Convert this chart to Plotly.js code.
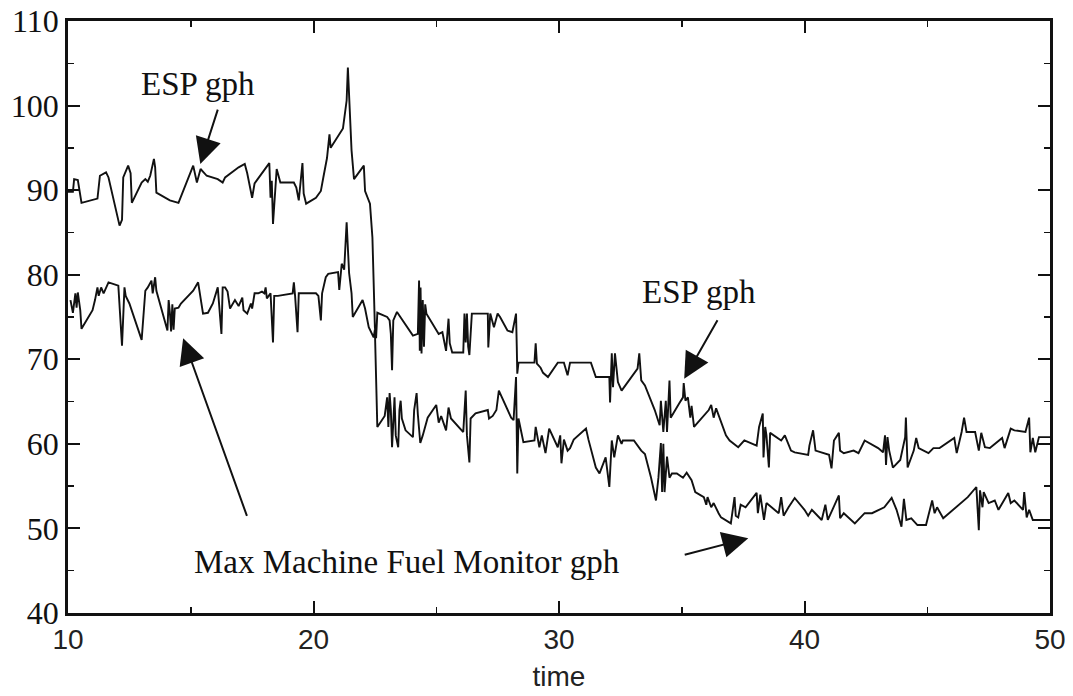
<!DOCTYPE html>
<html>
<head>
<meta charset="utf-8">
<script src="https://cdn.plot.ly/plotly-3.0.1.min.js"></script>
<style>html,body{margin:0;padding:0;background:#fff;}#chart{width:1073px;height:696px;}</style>
</head>
<body>
<div id="chart"></div>
<script>
// ESP gph (upper trace)
var espTime = [10.0,10.2,10.25,10.4,10.55,11.2,11.3,11.55,11.65,12.1,12.2,12.25,12.45,12.55,12.6,13.0,13.15,13.25,13.35,13.5,13.55,13.6,14.15,14.5,15.1,15.2,15.25,15.4,15.65,16.1,16.3,16.4,16.95,17.2,17.3,17.5,17.6,18.2,18.25,18.3,18.35,18.5,18.65,19.2,19.3,19.4,19.55,19.6,19.7,20.1,20.3,20.4,20.55,20.65,20.7,21.2,21.35,21.4,21.45,21.55,21.65,22.05,22.1,22.2,22.3,22.4,22.5,22.55,22.6,23.0,23.1,23.15,23.2,23.25,23.4,24.05,24.25,24.3,24.33,24.36,24.4,24.45,24.5,24.55,24.6,25.1,25.25,25.4,25.5,25.55,25.65,26.1,26.15,26.2,26.25,26.3,26.35,26.45,27.1,27.12,27.2,27.35,27.5,27.6,27.9,28.1,28.25,28.28,28.3,28.35,29.0,29.05,29.1,29.25,29.35,29.55,29.95,30.2,30.35,30.45,31.3,31.5,32.05,32.08,32.15,32.2,32.28,32.4,32.55,33.2,33.27,33.35,33.5,33.9,34.1,34.15,34.25,34.35,34.4,34.5,34.55,34.9,35.05,35.08,35.15,35.25,35.35,35.4,35.5,35.65,36.1,36.2,36.3,36.4,36.7,36.8,36.95,37.3,37.55,38.05,38.15,38.3,38.33,38.4,38.45,38.55,38.6,39.05,39.2,39.45,39.6,40.15,40.2,40.35,40.45,41.0,41.1,41.2,41.4,41.45,41.6,42.0,42.2,42.45,43.0,43.2,43.28,43.32,43.38,43.45,43.6,43.9,44.1,44.13,44.2,44.3,44.45,44.55,44.65,45.05,45.25,45.5,46.1,46.2,46.4,46.5,46.6,46.95,47.1,47.2,47.35,47.55,48.05,48.15,48.4,48.55,49.0,49.15,49.2,49.3,49.4,49.55,50.0];
var espGph = [89.8,89.8,91.3,91.2,88.5,89.0,91.7,92.1,91.5,85.8,86.5,91.5,92.9,92.0,88.5,90.9,91.3,91.0,91.7,93.7,92.7,89.7,88.8,88.5,92.9,91.5,90.9,92.5,91.7,91.3,90.9,91.5,92.7,93.1,92.0,89.1,90.8,93.2,89.1,91.1,86.0,92.5,90.9,90.9,90.3,88.8,93.2,89.6,88.4,89.1,89.9,91.5,93.8,96.6,95.0,97.3,100.6,104.5,101.7,94.7,91.3,92.9,89.9,89.1,88.4,84.4,73.8,72.5,75.5,75.0,74.6,73.0,68.7,74.6,75.6,72.8,73.0,79.3,71.0,78.5,70.7,77.0,71.5,76.5,75.4,73.0,73.2,71.0,74.8,71.9,70.8,70.8,75.4,72.0,75.4,71.5,70.5,75.4,75.4,71.4,75.4,73.8,75.4,75.0,73.4,73.2,75.4,71.5,68.3,69.6,69.6,71.9,69.5,69.0,68.4,67.9,69.6,69.6,68.1,69.6,69.6,67.9,67.9,64.9,70.7,66.7,70.7,67.3,66.3,68.9,70.7,67.5,66.9,64.0,62.2,65.1,61.4,65.1,61.4,67.5,63.1,64.8,65.5,67.2,65.1,65.5,63.1,64.5,62.0,62.5,64.0,64.6,63.1,64.2,61.6,61.0,60.4,59.6,60.4,59.8,62.0,63.6,58.4,62.0,61.0,57.2,61.3,60.4,61.0,59.2,59.0,58.7,59.8,61.6,59.2,58.7,57.1,60.4,61.3,59.2,58.9,59.2,58.9,60.4,59.5,59.0,61.0,57.5,60.8,59.2,57.2,58.1,60.8,63.1,57.2,58.1,59.2,60.7,59.5,58.9,59.5,59.5,60.7,58.9,61.4,63.1,61.4,61.4,59.2,61.3,59.6,59.5,60.7,59.5,61.8,61.6,61.4,63.1,59.0,60.7,59.0,60.8,60.8];

// Max Machine Fuel Monitor gph (lower trace)
var mmfmTime = [10.1,10.2,10.3,10.35,10.4,10.5,10.55,11.0,11.1,11.2,11.25,11.35,11.45,11.65,12.05,12.2,12.3,12.35,12.5,13.0,13.15,13.25,13.4,13.45,13.55,13.6,14.05,14.1,14.15,14.2,14.25,14.3,14.35,14.5,14.6,15.1,15.3,15.5,15.7,15.9,16.1,16.2,16.25,16.3,16.4,16.5,16.6,16.8,16.95,17.1,17.15,17.3,17.45,17.5,17.6,17.75,17.9,18.0,18.05,18.1,18.25,18.35,18.4,18.55,19.15,19.2,19.25,19.35,19.4,20.1,20.2,20.3,20.35,20.5,20.6,21.0,21.05,21.15,21.25,21.35,21.4,21.45,21.55,21.6,22.0,22.1,22.25,22.45,22.5,22.6,22.9,23.0,23.05,23.1,23.15,23.2,23.3,23.35,23.45,23.5,23.55,23.6,23.75,24.05,24.1,24.15,24.2,24.25,24.35,24.45,24.65,25.0,25.1,25.2,25.4,25.5,25.6,26.1,26.2,26.25,26.35,26.4,26.6,27.1,27.15,27.3,27.45,27.55,28.05,28.15,28.25,28.3,28.35,28.55,29.0,29.05,29.2,29.3,29.45,29.6,29.95,30.05,30.1,30.2,30.35,30.45,30.6,31.1,31.2,31.5,31.65,31.9,32.05,32.15,32.25,32.4,32.55,32.6,33.05,33.35,33.5,33.75,33.95,34.05,34.15,34.2,34.25,34.3,34.4,34.5,34.6,34.8,35.05,35.2,35.4,35.55,35.9,36.0,36.05,36.2,36.3,36.5,36.6,37.0,37.15,37.2,37.3,37.4,37.6,38.05,38.1,38.2,38.35,38.45,38.95,39.05,39.15,39.35,39.6,40.0,40.15,40.3,40.7,40.85,40.95,41.4,41.45,41.6,42.05,42.45,42.75,43.25,43.55,43.75,43.95,44.05,44.15,44.35,44.6,44.95,45.2,45.3,45.4,45.65,46.05,46.45,46.65,47.0,47.1,47.15,47.25,47.3,47.5,47.75,47.9,48.3,48.4,48.55,48.9,48.95,49.05,49.15,49.3,50.0];
var mmfmGph = [77.0,75.5,77.8,76.1,77.9,75.8,73.6,75.8,77.0,78.5,77.5,78.5,77.8,79.1,78.7,71.6,78.5,77.5,76.6,72.3,78.1,78.5,79.3,77.8,79.7,78.1,73.4,77.0,75.5,73.3,76.5,73.5,76.0,76.1,76.6,78.1,79.1,75.4,75.5,76.6,78.5,75.4,73.0,78.5,78.5,78.0,76.0,77.0,76.3,77.3,75.8,75.4,76.6,76.0,77.8,77.8,78.0,77.8,78.5,77.2,77.8,72.0,77.5,77.5,77.8,79.1,77.5,73.2,77.8,77.8,77.5,74.6,77.8,79.7,80.1,80.3,78.2,81.3,80.6,86.2,83.2,80.2,77.8,75.0,77.0,76.0,73.8,72.6,73.5,62.0,63.3,65.5,62.0,66.0,64.0,59.6,65.5,61.0,59.6,64.0,65.1,63.0,61.6,60.8,64.0,65.1,66.0,63.5,60.1,61.0,63.1,64.6,62.5,63.3,61.6,64.3,63.0,61.4,66.3,61.0,57.8,63.0,63.6,64.0,63.0,63.3,64.0,66.3,63.1,62.8,67.9,56.5,63.0,60.2,60.4,62.0,59.6,61.0,58.9,61.8,59.6,61.0,57.7,60.5,59.2,59.5,60.5,61.8,60.5,57.2,56.5,58.4,54.9,60.4,58.4,61.0,60.0,60.4,60.4,59.2,58.8,56.0,53.3,56.0,60.1,54.3,60.0,54.3,58.5,56.0,56.5,56.5,56.0,56.6,55.7,54.3,53.7,52.8,53.7,52.5,53.0,51.8,51.3,50.6,53.7,51.5,51.3,52.8,52.5,54.2,51.8,54.0,51.0,53.0,51.8,53.7,51.5,52.5,53.6,52.2,51.5,52.2,51.0,52.8,51.0,53.9,51.2,51.8,50.6,51.8,51.8,52.5,53.6,52.2,50.2,53.5,51.0,51.2,50.4,50.4,53.3,51.8,52.5,51.2,52.2,53.3,53.7,54.9,49.8,54.5,52.5,54.3,53.0,53.3,52.2,54.2,53.0,53.3,52.2,54.3,51.3,52.2,51.0,51.0];

var xTicks = [10,20,30,40,50];
var yTicks = [40,50,60,70,80,90,100,110];

var lineStyle = {color:'#111', width:1.9};
var traces = [
  {x:espTime, y:espGph, type:'scatter', mode:'lines', line:lineStyle, name:'ESP gph', showlegend:false, hoverinfo:'x+y'},
  {x:mmfmTime, y:mmfmGph, type:'scatter', mode:'lines', line:lineStyle, name:'Max Machine Fuel Monitor gph', showlegend:false, hoverinfo:'x+y'}
];

var serif = 'Liberation Serif, Times New Roman, serif';
var sans = 'Liberation Sans, Arial, sans-serif';

function arrow(hx, hy, tx, ty){
  return {x:hx, y:hy, ax:tx, ay:ty, xref:'x', yref:'y', axref:'x', ayref:'y', text:'', showarrow:true,
          arrowhead:2, arrowsize:2.6, arrowwidth:2, arrowcolor:'#111', standoff:0, startstandoff:0};
}
function label(x, y, txt, size){
  return {x:x, y:y, xref:'x', yref:'y', text:txt, showarrow:false, font:{family:serif, size:size, color:'#111'}, xanchor:'center', yanchor:'middle'};
}

var layout = {
  width:1073, height:696,
  margin:{l:68, r:23, t:21, b:83},
  paper_bgcolor:'#fff', plot_bgcolor:'#fff',
  showlegend:false,
  xaxis:{range:[10,50], tickvals:xTicks, ticks:'inside', ticklen:12, tickwidth:2, tickcolor:'#111',
         minor:{dtick:5, tick0:10, ticks:'inside', ticklen:6, tickwidth:1.5, tickcolor:'#111', showgrid:false},
         showline:true, linewidth:2.8, linecolor:'#111', mirror:'ticks', showgrid:false, zeroline:false,
         tickfont:{family:sans, size:28, color:'#222'},
         title:{text:'time', font:{family:sans, size:28, color:'#222'}, standoff:12}},
  yaxis:{range:[40,110], tickvals:yTicks, ticks:'inside', ticklen:12, tickwidth:2, tickcolor:'#111',
         minor:{dtick:5, tick0:40, ticks:'inside', ticklen:6, tickwidth:1.5, tickcolor:'#111', showgrid:false},
         showline:true, linewidth:2.8, linecolor:'#111', mirror:'ticks', showgrid:false, zeroline:false,
         tickfont:{family:serif, size:32, color:'#111'}},
  annotations:[
    label(15.3, 102.6, 'ESP gph', 33),
    label(35.7, 77.9, 'ESP gph', 33),
    label(23.8, 46.0, 'Max Machine Fuel Monitor gph', 33),
    arrow(15.39, 93.1, 16.12, 99.7),
    arrow(35.1, 67.7, 36.49, 74.8),
    arrow(14.69, 72.5, 17.31, 51.3),
    arrow(37.71, 48.85, 35.06, 46.85)
  ]
};

Plotly.newPlot('chart', traces, layout, {displayModeBar:false, staticPlot:true});
</script>
</body>
</html>
